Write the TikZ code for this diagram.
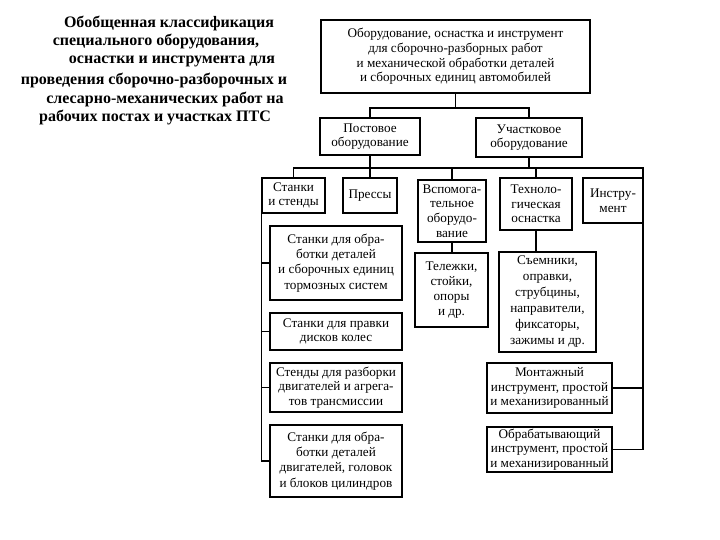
\documentclass[tikz,border=0pt]{standalone}
\usepackage{fontspec}
\setmainfont{Liberation Serif}
\usetikzlibrary{calc}
\begin{document}
\begin{tikzpicture}[x=1pt,y=-1pt,
  box/.style={draw,line width=1.2pt,align=center,inner sep=0pt,
    font=\fontsize{13.2}{14.6}\selectfont},
  title/.style={font=\bfseries\fontsize{16}{18}\selectfont,inner sep=0pt},
  conn/.style={line width=1.1pt}]
\useasboundingbox[fill=white] (0,0) rectangle (720,540);
% title
\node[title] (t1) at (169,23) {Обобщенная классификация};
\node[title] (t2) at (156,42) {специального оборудования,};
\node[title] (t3) at (172,61) {оснастки и инструмента для};
\node[title] (t4) at (154,80) {проведения сборочно-разборочных и};
\node[title] (t5) at (165,99) {слесарно-механических работ на};
\node[title] (t6) at (155,118) {рабочих постах и участках ПТС};
% boxes
\node[box,minimum width=269,minimum height=73] (top) at (455.5,56.5)
 {Оборудование, оснастка и инструмент\\для сборочно-разборных работ\\и механической обработки деталей\\и сборочных единиц автомобилей};
\node[box,minimum width=100,minimum height=37] (post) at (370,136.5) {Постовое\\оборудование};
\node[box,minimum width=106,minimum height=39] (uch) at (529,137.5) {Участковое\\оборудование};
\node[box,minimum width=63,minimum height=35] (stanki) at (293.5,195.5) {Станки\\и стенды};
\node[box,minimum width=54,minimum height=35] (pressy) at (370,195.5) {Прессы};
\node[box,minimum width=68,minimum height=62] (vspom) at (452,211) {Вспомога-\\тельное\\оборудо-\\вание};
\node[box,minimum width=72,minimum height=52] (tekh) at (536,204) {Техноло-\\гическая\\оснастка};
\node[box,minimum width=60,minimum height=45] (instr) at (613,200.5) {Инстру-\\мент};
\node[box,minimum width=73,minimum height=74,font=\fontsize{13.2}{15.2}\selectfont] (telezh) at (451.5,290) {Тележки,\\стойки,\\опоры\\и др.};
\node[box,minimum width=97,minimum height=100,font=\fontsize{13.2}{16}\selectfont] (sem) at (547.5,302) {Съемники,\\оправки,\\струбцины,\\направители,\\фиксаторы,\\зажимы и др.};
\node[box,minimum width=125,minimum height=50] (mont) at (549.5,388) {Монтажный\\инструмент, простой\\и механизированный};
\node[box,minimum width=125,minimum height=45] (obr) at (549.5,449.5) {Обрабатывающий\\инструмент, простой\\и механизированный};
\node[box,minimum width=132,minimum height=74,font=\fontsize{13.2}{15.2}\selectfont] (s1) at (336,263) {Станки для обра-\\ботки деталей\\и сборочных единиц\\тормозных систем};
\node[box,minimum width=132,minimum height=37] (s2) at (336,331.5) {Станки для правки\\дисков колес};
\node[box,minimum width=132,minimum height=49] (s3) at (336,387.5) {Стенды для разборки\\двигателей и агрега-\\тов трансмиссии};
\node[box,minimum width=132,minimum height=72,font=\fontsize{13.2}{15.2}\selectfont] (s4) at (336,461) {Станки для обра-\\ботки деталей\\двигателей, головок\\и блоков цилиндров};
% connectors
\coordinate (j1) at (455.5,108);
\coordinate (j3) at (643,168);
\draw[conn] (top.south) -- (j1);
\draw[conn] (post.north) |- (j1) -| (uch.north);
\draw[conn] (post.south) -- (post.south |- j3);
\draw[conn] (uch.south) -- (uch.south |- j3);
\draw[conn] (stanki.north) |- (j3) |- (obr.east);
\draw[conn] (mont.east) -- (mont.east -| j3);
\draw[conn] (pressy.north) -- (pressy.north |- j3);
\draw[conn] (vspom.north) -- (vspom.north |- j3);
\draw[conn] (tekh.north) -- (tekh.north |- j3);
\draw[conn] (vspom.south) -- (vspom.south |- telezh.north);
\draw[conn] (tekh.south) -- (tekh.south |- sem.north);
\draw[conn] (stanki.south west) |- (s4.west);
\draw[conn] (s1.west) -- (s1.west -| stanki.south west);
\draw[conn] (s2.west) -- (s2.west -| stanki.south west);
\draw[conn] (s3.west) -- (s3.west -| stanki.south west);
\end{tikzpicture}
\end{document}
